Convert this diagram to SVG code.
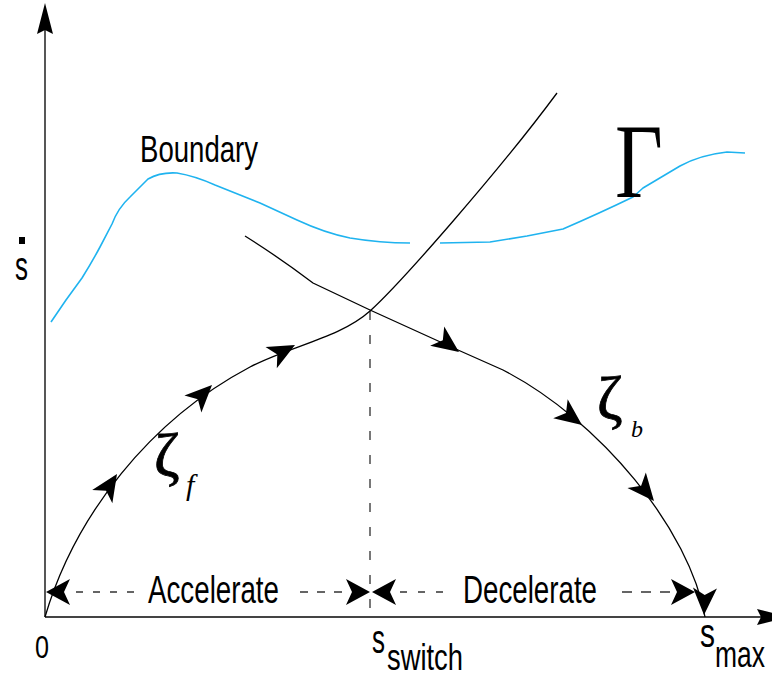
<svg xmlns="http://www.w3.org/2000/svg" width="772" height="679" viewBox="0 0 772 679">
<style>
.ax{stroke:#444;stroke-width:1.8;fill:none}
.cv{stroke:#000;stroke-width:1.3;fill:none}
.bd{stroke:#1fb3ef;stroke-width:1.6;fill:none;stroke-linejoin:round}
.hd{stroke:#333;stroke-width:1.3;fill:none}
.vd{stroke:#777;stroke-width:2;fill:none;stroke-dasharray:9 15}
.sans{font-family:"Liberation Sans Narrow","Liberation Sans",Arial,sans-serif;fill:#000}
.serif{font-family:"Liberation Serif","Times New Roman",serif;fill:#000}
.ah{fill:#000}
</style>
<defs>
<path id="ah" d="M0,0 L-27,-12 L-20,0 L-27,12 Z"/>
<path id="hah" d="M0,0 L-24,-13 L-18,0 L-24,13 Z"/>
<path id="axh" d="M0,0 L-31,-8 L-27,0 L-31,8 Z"/>
</defs>

<g id="axes">
<line class="ax" x1="45" y1="617" x2="45" y2="28"/>
<use href="#axh" class="ah" transform="translate(45,3) rotate(-90)"/>
<line class="ax" x1="45" y1="617" x2="762" y2="617"/>
<use href="#axh" class="ah" transform="translate(788,617)"/>
</g>

<g id="boundary">
<path class="bd" d="M51,322 L66,300 L82,278 Q92,262 100,247 L112,224 Q118,208 130,197 L148,179 Q160,172 177,173 Q195,176 215,185 L260,203 L297,220 Q325,233 350,238 Q380,243 410,243"/>
<path class="bd" d="M440,243 L490,242 L527,236 L563,229 Q600,213 633,197 L643,188 L680,166 Q700,155 727,152 L745,153"/>
</g>

<g id="connectors">
<line class="vd" x1="370" y1="311" x2="370" y2="617"/>
<path id="zeta_f" class="cv" d="M45,617 C75,515 150,420 250,367 C290,346 340,338 370,311 C400,284 500,170 557,93"/>
<path id="zeta_b" class="cv" d="M245,236 Q280,258 313,283 L370,310 L458,350 L503,370 C600,420 690,530 705,617"/>
<use href="#ah" class="ah" transform="translate(117,474) rotate(-57)"/>
<use href="#ah" class="ah" transform="translate(212,385) rotate(-45)"/>
<use href="#ah" class="ah" transform="translate(295,345) rotate(-28)"/>
<use href="#ah" class="ah" transform="translate(459,352) rotate(36)"/>
<use href="#ah" class="ah" transform="translate(582,425) rotate(37)"/>
<use href="#ah" class="ah" transform="translate(654,501) rotate(50)"/>
<use href="#ah" class="ah" transform="translate(704,615) rotate(92)"/>
<line class="hd" x1="76" y1="592" x2="138" y2="592" stroke-dasharray="7 10"/>
<line class="hd" x1="300" y1="592" x2="346" y2="592" stroke-dasharray="8 9"/>
<line class="hd" x1="400" y1="592" x2="446" y2="592" stroke-dasharray="7 11"/>
<line class="hd" x1="622" y1="592" x2="672" y2="592" stroke-dasharray="10 9"/>
<use href="#hah" class="ah" transform="translate(46,592) rotate(180)"/>
<use href="#hah" class="ah" transform="translate(370,592)"/>
<use href="#hah" class="ah" transform="translate(372,592) rotate(180)"/>
<use href="#hah" class="ah" transform="translate(695,592)"/>
</g>

<g id="labels">
<rect x="19" y="237" width="6" height="7" fill="#000"/>
<text class="sans" x="15" y="280" font-size="41" textLength="13" lengthAdjust="spacingAndGlyphs">s</text>
<text class="sans" x="140" y="162" font-size="37" textLength="118" lengthAdjust="spacingAndGlyphs">Boundary</text>
<text class="sans" x="148" y="603" font-size="38" textLength="131" lengthAdjust="spacingAndGlyphs">Accelerate</text>
<text class="sans" x="463" y="603" font-size="38" textLength="134" lengthAdjust="spacingAndGlyphs">Decelerate</text>
<text class="sans" x="35" y="658" font-size="31" textLength="14" lengthAdjust="spacingAndGlyphs">0</text>
<text class="sans" x="372" y="653" font-size="41" textLength="13" lengthAdjust="spacingAndGlyphs">s</text>
<text class="sans" x="387" y="670" font-size="37" textLength="76" lengthAdjust="spacingAndGlyphs">switch</text>
<text class="sans" x="700" y="647" font-size="41" textLength="15" lengthAdjust="spacingAndGlyphs">s</text>
<text class="sans" x="715" y="667" font-size="36" textLength="50" lengthAdjust="spacingAndGlyphs">max</text>
<text class="serif" font-size="106" transform="translate(615,197) scale(0.78,1)">Γ</text>
<text class="serif" x="154" y="476" font-size="62" stroke="#000" stroke-width="0.8">ζ</text>
<text class="serif" x="186" y="495" font-size="30" font-style="italic">f</text>
<text class="serif" x="597" y="419" font-size="62" stroke="#000" stroke-width="0.8">ζ</text>
<text class="serif" x="631" y="437" font-size="24" font-style="italic">b</text>
</g>
</svg>
